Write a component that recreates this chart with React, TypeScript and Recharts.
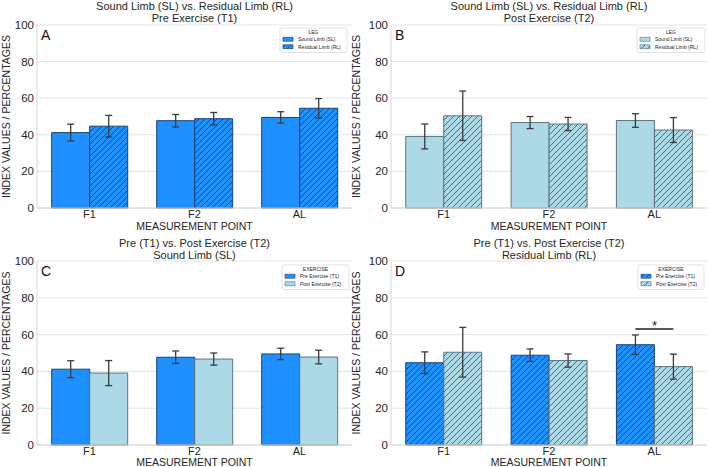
import React from 'react';
import { BarChart, Bar, XAxis, YAxis, CartesianGrid, ErrorBar, Rectangle } from 'recharts';

const categories = ['F1', 'F2', 'AL'];
const soundPre = [41.2, 47.7, 49.5];
const soundPreErr = [4.6, 3.4, 3.1];
const residualPre = [44.7, 48.8, 54.5];
const residualPreErr = [5.9, 3.4, 5.3];
const soundPost = [39.1, 46.7, 47.8];
const soundPostErr = [6.8, 3.3, 3.7];
const residualPost = [50.4, 45.9, 42.6];
const residualPostErr = [13.5, 3.6, 6.8];
const yTicks = [0, 20, 40, 60, 80, 100];
// significance bracket height (value units) for residual limb pre vs post; null = none
const residualSig: (number | null)[] = [null, null, 63];

const FONT = '"Liberation Sans", Arial, sans-serif';
const TEXT = '#262626';
const BLUE = '#1E90FF';
const LIGHT = '#ADD8E6';
const BLUE_EDGE = '#22406a';
const LIGHT_EDGE = '#5c7480';
const GRID = '#e4e4e4';
const FRAME = '#d6d6d6';

type Style = 'blue' | 'blueHatch' | 'light' | 'lightHatch';

function HatchDefs({ prefix }: { prefix: string }) {
  return (
    <defs>
      <pattern id={`${prefix}-blueHatch`} patternUnits="userSpaceOnUse" width="6" height="6">
        <rect width="6" height="6" fill={BLUE} />
        <path d="M0,6 L6,0 M-1.5,1.5 L1.5,-1.5 M4.5,7.5 L7.5,4.5" stroke={BLUE_EDGE} strokeWidth="0.9" />
      </pattern>
      <pattern id={`${prefix}-lightHatch`} patternUnits="userSpaceOnUse" width="6" height="6">
        <rect width="6" height="6" fill={LIGHT} />
        <path d="M0,6 L6,0 M-1.5,1.5 L1.5,-1.5 M4.5,7.5 L7.5,4.5" stroke={'#45606c'} strokeWidth="0.9" />
      </pattern>
    </defs>
  );
}

function fillFor(s: Style, prefix: string) {
  if (s === 'blue') return BLUE;
  if (s === 'light') return LIGHT;
  return `url(#${prefix}-${s})`;
}
function edgeFor(s: Style) {
  return s === 'blue' || s === 'blueHatch' ? BLUE_EDGE : LIGHT_EDGE;
}

type Series = { values: number[]; err: number[]; style: Style };

// Bar shape for the second series; draws a significance bracket between the pair when present
function SigShape(p: any) {
  const sig = p.payload && p.payload.sig;
  let extra = null;
  if (sig != null && p.value) {
    const v = Array.isArray(p.value) ? p.value[1] : p.value;
    const pxPerUnit = p.height / v;
    const baseY = p.y + p.height;
    const yy = baseY - sig * pxPerUnit;
    const x1 = p.x - p.width / 2;
    const x2 = p.x + p.width / 2;
    extra = (
      <g>
        <line x1={x1} y1={yy} x2={x2} y2={yy} stroke="#222" strokeWidth={1.5} />
        <text x={(x1 + x2) / 2} y={yy + 1} textAnchor="middle" fontSize={13} fill="#222" fontFamily={FONT}>*</text>
      </g>
    );
  }
  return (
    <g>
      <Rectangle x={p.x} y={p.y} width={p.width} height={p.height} fill={p.fill} stroke={p.stroke} strokeWidth={p.strokeWidth} />
      {extra}
    </g>
  );
}

function Panel(props: {
  id: string; left: number; top: number; width: number; height: number; mb: number;
  a: Series; b: Series; sig?: (number | null)[];
}) {
  const { id, left, top, width, height, mb, a, b, sig } = props;
  const data = categories.map((c, i) => ({
    cat: c, a: a.values[i], aErr: a.err[i], b: b.values[i], bErr: b.err[i], sig: sig ? sig[i] : null,
  }));
  return (
    <div style={{ position: 'absolute', left, top }}>
      <BarChart width={width} height={height} data={data}
        margin={{ top: 25, right: 2, left: 0, bottom: mb }}
        barCategoryGap="14%" barGap={0}>
        <HatchDefs prefix={id} />
        <CartesianGrid vertical={false} stroke={GRID} strokeWidth={1} />
        <XAxis dataKey="cat" height={20} tickLine={false} tickSize={0} tickMargin={2}
          axisLine={{ stroke: FRAME }} tick={{ fill: TEXT, fontSize: 11, fontFamily: FONT }} />
        <YAxis domain={[0, 100]} ticks={yTicks} width={37} tickLine={false} tickSize={0} tickMargin={3}
          axisLine={{ stroke: FRAME }} tick={{ fill: TEXT, fontSize: 11.5, fontFamily: FONT }} />
        <YAxis yAxisId="r" orientation="right" domain={[0, 100]} width={0} tick={false} tickLine={false}
          axisLine={{ stroke: FRAME }} />
        <Bar dataKey="a" fill={fillFor(a.style, id)} stroke={edgeFor(a.style)} strokeWidth={1} isAnimationActive={false}>
          <ErrorBar dataKey="aErr" direction="y" width={3.5} stroke="#3c3c3c" strokeWidth={1.3} />
        </Bar>
        <Bar dataKey="b" fill={fillFor(b.style, id)} stroke={edgeFor(b.style)} strokeWidth={1} isAnimationActive={false}
          shape={SigShape}>
          <ErrorBar dataKey="bErr" direction="y" width={3.5} stroke="#3c3c3c" strokeWidth={1.3} />
        </Bar>
      </BarChart>
    </div>
  );
}

function LegendBox(props: { x: number; y: number; w: number; title: string; items: { label: string; style: Style }[] }) {
  const { x, y, w, title, items } = props;
  return (
    <g>
      <rect x={x} y={y} width={w} height={24.5} fill="#fff" fillOpacity={0.9} stroke="#dcdcdc" strokeWidth={0.8} rx={1.5} />
      <text x={x + w / 2} y={y + 6} textAnchor="middle" fontSize={5} fill={TEXT} fontFamily={FONT}>{title}</text>
      {items.map((it, i) => (
        <g key={i}>
          <rect x={x + 3} y={y + 9.2 + i * 7.6} width={10} height={4} fill={fillFor(it.style, 'lg')} stroke={edgeFor(it.style)} strokeWidth={0.6} />
          <text x={x + 18} y={y + 13 + i * 7.6} fontSize={5} fill={TEXT} fontFamily={FONT}>{it.label}</text>
        </g>
      ))}
    </g>
  );
}

function Overlay() {
  const titleSize = 11;
  const t = (x: number, y: number, s: string, size = titleSize) => (
    <text x={x} y={y} textAnchor="middle" fontSize={size} fill={TEXT} fontFamily={FONT}>{s}</text>
  );
  const ylab = (x: number, cy: number) => (
    <text x={x} y={cy} transform={`rotate(-90 ${x} ${cy})`} textAnchor="middle" fontSize={10.5} fill={TEXT} fontFamily={FONT}>
      INDEX VALUES / PERCENTAGES
    </text>
  );
  const letter = (x: number, y: number, s: string) => (
    <text x={x} y={y} fontSize={14} fill={'#111'} fontFamily={FONT}>{s}</text>
  );
  return (
    <svg width={709} height={467} style={{ position: 'absolute', left: 0, top: 0, pointerEvents: 'none' }}>
      <HatchDefs prefix="lg" />
      {t(194.5, 10, 'Sound Limb (SL) vs. Residual Limb (RL)')}
      {t(194.5, 22, 'Pre Exercise (T1)')}
      {t(549, 10, 'Sound Limb (SL) vs. Residual Limb (RL)')}
      {t(549, 22, 'Post Exercise (T2)')}
      {t(194.5, 247, 'Pre (T1) vs. Post Exercise (T2)')}
      {t(194.5, 258.5, 'Sound Limb (SL)')}
      {t(549, 247, 'Pre (T1) vs. Post Exercise (T2)')}
      {t(549, 258.5, 'Residual Limb (RL)')}
      {ylab(10, 116.5)}
      {ylab(360, 116.5)}
      {ylab(10, 353)}
      {ylab(360, 353)}
      {t(194.5, 229.5, 'MEASUREMENT POINT', 10.5)}
      {t(549, 229.5, 'MEASUREMENT POINT', 10.5)}
      {t(194.5, 466, 'MEASUREMENT POINT', 10.5)}
      {t(549, 466, 'MEASUREMENT POINT', 10.5)}
      {letter(41, 40, 'A')}
      {letter(395, 40, 'B')}
      {letter(41, 276, 'C')}
      {letter(395, 276, 'D')}
      <LegendBox x={280} y={28} w={67} title="LEG" items={[{ label: 'Sound Limb (SL)', style: 'blue' }, { label: 'Residual Limb (RL)', style: 'blueHatch' }]} />
      <LegendBox x={637} y={28} w={68} title="LEG" items={[{ label: 'Sound Limb (SL)', style: 'light' }, { label: 'Residual Limb (RL)', style: 'lightHatch' }]} />
      <LegendBox x={282} y={265} w={67} title="EXERCISE" items={[{ label: 'Pre Exercise (T1)', style: 'blue' }, { label: 'Post Exercise (T2)', style: 'light' }]} />
      <LegendBox x={638} y={265} w={66} title="EXERCISE" items={[{ label: 'Pre Exercise (T1)', style: 'blueHatch' }, { label: 'Post Exercise (T2)', style: 'lightHatch' }]} />
    </svg>
  );
}

export default function App() {
  return (
    <div style={{ position: 'absolute', left: 0, top: 0, width: 709, height: 467, background: '#fff', fontFamily: FONT, overflow: 'hidden' }}>
      <Panel id="pA" left={0} top={0} width={354} height={233} mb={5}
        a={{ values: soundPre, err: soundPreErr, style: 'blue' }}
        b={{ values: residualPre, err: residualPreErr, style: 'blueHatch' }} />
      <Panel id="pB" left={354} top={0} width={355} height={233} mb={5}
        a={{ values: soundPost, err: soundPostErr, style: 'light' }}
        b={{ values: residualPost, err: residualPostErr, style: 'lightHatch' }} />
      <Panel id="pC" left={0} top={236} width={354} height={231} mb={2}
        a={{ values: soundPre, err: soundPreErr, style: 'blue' }}
        b={{ values: soundPost, err: soundPostErr, style: 'light' }} />
      <Panel id="pD" left={354} top={236} width={355} height={231} mb={2} sig={residualSig}
        a={{ values: residualPre, err: residualPreErr, style: 'blueHatch' }}
        b={{ values: residualPost, err: residualPostErr, style: 'lightHatch' }} />
      <Overlay />
    </div>
  );
}
